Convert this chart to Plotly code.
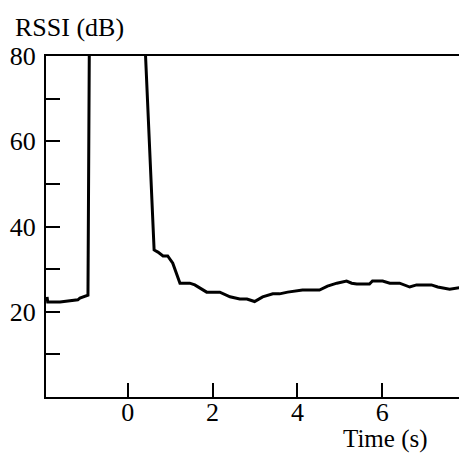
import plotly.graph_objects as go

# Time (s) and RSSI (dB)
time_s = [-1.905, -1.89, -1.60, -1.43, -1.18, -1.13, -1.06, -0.94, -0.893, 0.285,
          0.62, 0.71, 0.83, 0.94, 1.06, 1.23, 1.46, 1.58, 1.86, 2.17,
          2.41, 2.64, 2.81, 2.99, 3.18, 3.42, 3.58, 3.77, 4.12, 4.52,
          4.71, 4.93, 5.16, 5.28, 5.40, 5.70, 5.77, 6.01, 6.18, 6.41,
          6.65, 6.81, 7.16, 7.31, 7.59, 7.75, 7.94, 8.01]
rssi_db = [23.5, 22.3, 22.3, 22.5, 22.8, 23.2, 23.5, 23.9, 110, 110,
           34.5, 34.0, 33.1, 33.1, 31.4, 26.7, 26.7, 26.3, 24.6, 24.6,
           23.5, 23.0, 23.0, 22.4, 23.5, 24.2, 24.2, 24.6, 25.1, 25.1,
           26.0, 26.7, 27.2, 26.7, 26.5, 26.5, 27.2, 27.2, 26.7, 26.7,
           25.8, 26.3, 26.3, 25.8, 25.3, 25.6, 25.8, 25.8]

x_ticks = [0, 2, 4, 6]
y_ticks = [20, 40, 60, 80]
y_minor = [10, 30, 50, 70]

FONT = "Liberation Serif, Times New Roman, Times, serif"
F = dict(family=FONT, size=26, color="black")
F_XT = dict(family=FONT, size=25, color="black")

fig = go.Figure()
fig.add_trace(go.Scatter(x=time_s, y=rssi_db, mode="lines",
                         line=dict(color="black", width=3),
                         showlegend=False, hoverinfo="skip"))

# page body has an 8px margin, so the figure is sized/offset to compensate
fig.update_layout(
    width=459, height=446,
    margin=dict(l=38, r=0, t=48, b=57),
    paper_bgcolor="white", plot_bgcolor="white",
    font=F,
    xaxis=dict(range=[-1.93, 8.0], tickvals=x_ticks, ticktext=[str(v) for v in x_ticks],
               ticks="inside", ticklen=14, tickwidth=2, tickcolor="black",
               showline=True, linecolor="black", linewidth=2, mirror=True,
               showgrid=False, zeroline=False, ticklabelstandoff=-9,
               tickfont=F),
    yaxis=dict(range=[0, 80], tickvals=y_ticks, ticktext=[str(v) for v in y_ticks],
               ticks="inside", ticklen=14, tickwidth=2, tickcolor="black",
               showline=True, linecolor="black", linewidth=2,
               showgrid=False, zeroline=False, ticklabelstandoff=3,
               minor=dict(tickvals=y_minor, ticks="inside", ticklen=14,
                          tickwidth=2, tickcolor="black", showgrid=False),
               tickfont=F),
    annotations=[
        dict(text="RSSI (dB)", xref="paper", yref="paper", x=-0.0784, y=1.085,
             xanchor="left", yanchor="middle", showarrow=False, font=F),
        dict(text="Time (s)", xref="paper", yref="paper", x=0.8076, y=-0.124,
             xanchor="center", yanchor="middle", showarrow=False, font=F_XT),
    ],
)

fig.write_html("out.html")
